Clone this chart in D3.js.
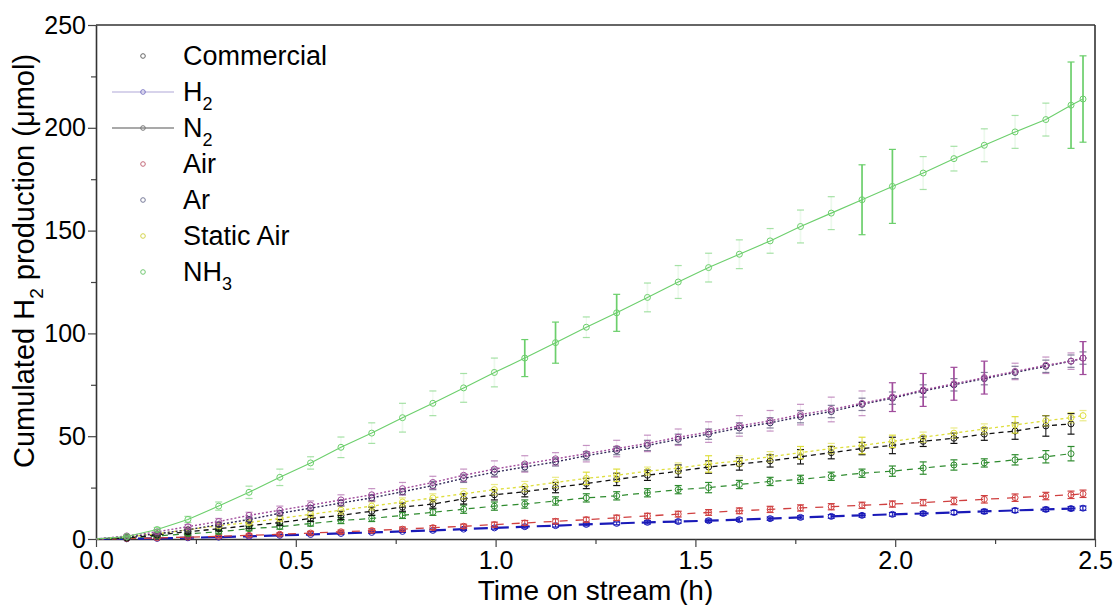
<!DOCTYPE html>
<html>
<head>
<meta charset="utf-8">
<script src="https://cdn.jsdelivr.net/npm/d3@7"></script>
<style>
  body { margin: 0; background: #fff; }
  text { font-family: Arial, "Liberation Sans", sans-serif; }
</style>
</head>
<body>
<div id="chart"></div>
<script>
// sampling times (h)
var times = [0, 0.077, 0.153, 0.23, 0.307, 0.383, 0.46, 0.537, 0.613, 0.69, 0.767, 0.843, 0.92, 0.997,
  1.073, 1.15, 1.227, 1.303, 1.38, 1.457, 1.533, 1.61, 1.687, 1.763, 1.84, 1.917, 1.993, 2.07,
  2.147, 2.223, 2.3, 2.377, 2.44, 2.47];

// cumulated H2 (umol), one array per curve
var nh3 = [0, 1.2, 4.6, 9.5, 16, 22.7, 30, 37, 44.6, 51.5, 59, 66, 73.5, 81, 88, 95.5, 103, 110, 117.5,
  125, 132, 138.5, 145, 152, 158.5, 165, 171.5, 178, 185, 191.5, 198, 204, 211, 214];
var nh3Err = [0, 0.5, 1, 1.5, 2, 3, 4, 3, 5, 5, 7, 6, 7, 7, 9, 10, 5, 9, 7, 8, 7, 7, 6, 8, 8, 17, 18, 8,
  6, 8, 8, 8, 21, 21];

var h2 = [0, 1.5, 3.5, 6, 8.5, 11.5, 14, 16.5, 19, 21.5, 24.5, 27.5, 31, 34, 36.5, 39, 41.5, 44, 46.5,
  49.5, 52, 55, 57.5, 60.5, 63, 66, 69, 72.5, 75.5, 78.5, 81.5, 84.5, 86.5, 88];
var h2Err = [0, 0.5, 1, 1, 1.5, 1.5, 2, 2, 2.5, 3, 3, 3, 3, 4, 4, 3, 4, 4, 4, 4, 5, 5, 5, 5, 6, 6, 7, 8,
  8, 8, 4, 4, 4, 8];

var n2 = [0, 1, 2.5, 4.5, 7, 9.5, 12.5, 15, 17.5, 20, 23, 26, 29.5, 32.5, 35, 37.5, 40.5, 43, 45.5,
  48.5, 51, 54, 56.5, 59.5, 62, 65.5, 68.5, 72, 75, 78, 81, 84, 86.5, 88];
var n2Err = [0, 0.3, 0.5, 0.8, 1, 1, 1.2, 1.2, 1.5, 1.5, 1.5, 2, 2, 2, 2, 2, 2, 2, 2.5, 2.5, 2.5, 2.5,
  2.5, 3, 3, 3, 3, 3, 3, 3, 3, 3, 3, 3];

var staticAir = [0, 1, 2.5, 4.5, 6.5, 8, 10, 12, 14, 16, 18, 20, 22, 24, 25.5, 27.5, 29.5, 31, 33, 34.5,
  36.5, 38, 40, 42, 44, 45.5, 47.5, 49.5, 51.5, 53.5, 55.5, 57.5, 59, 60];
var staticAirErr = [0, 0.3, 0.5, 0.8, 1, 1, 1.5, 1.5, 2, 2, 2, 2, 2.5, 2.5, 2.5, 2.5, 3, 3, 2, 2.5, 4,
  2.5, 2.5, 3, 2.5, 4, 3, 2.5, 2.5, 2.5, 4, 2.5, 2.5, 2.5];

var commercial = [0, 0.5, 2, 3.5, 5, 6.5, 8, 10, 11.5, 13.5, 15.5, 17, 19.5, 21.5, 23, 25, 27, 29, 31,
  33, 35, 36.5, 38, 40, 42, 44, 45.5, 47.5, 49, 51, 52.5, 55, 56];
var commercialErr = [0, 0.3, 0.5, 1, 1, 1.5, 1.5, 1.5, 2, 2, 2, 2, 2.5, 2.5, 2.5, 2.5, 2.5, 3, 2.5, 3,
  3, 3, 3, 3.5, 3, 3, 4, 2.5, 2.5, 3, 4, 5, 5];

var greenDash = [0, 0.5, 1.5, 2.5, 3.5, 5, 6, 7.5, 9, 10, 11.5, 13, 14.5, 16, 17, 18.5, 20, 21, 22.5,
  24, 25, 26.5, 28, 29, 30.5, 32, 33, 34.5, 36, 37, 38.5, 40, 41.5];
var greenDashErr = [0, 0.3, 0.5, 0.8, 1, 1, 1.2, 1.2, 1.5, 1.5, 1.5, 1.5, 2, 2, 2, 2, 2, 2, 2, 2, 2.5,
  2, 2, 2, 2, 2, 2.5, 3, 2.5, 2, 2.5, 3, 3.5];

var air = [0, 0.2, 0.5, 0.9, 1.3, 1.8, 2.3, 2.9, 3.5, 4.1, 4.8, 5.5, 6.2, 7, 7.8, 8.6, 9.4, 10.3, 11.2,
  12.1, 12.9, 13.7, 14.4, 15.1, 15.7, 16.4, 17, 17.7, 18.5, 19.3, 20.1, 20.9, 21.5, 22];
var airErr = [0, 0.2, 0.3, 0.4, 0.5, 0.6, 0.7, 0.8, 0.8, 0.9, 1, 1, 1, 1.2, 1.2, 1.2, 1.2, 1.3, 1.3,
  1.4, 1.4, 1.4, 1.5, 1.5, 1.5, 1.5, 1.5, 1.5, 1.8, 1.8, 1.8, 1.8, 1.8, 1.8];

var ar = [0, 0.1, 0.3, 0.6, 0.9, 1.3, 1.8, 2.2, 2.7, 3.2, 3.7, 4.2, 4.8, 5.4, 6, 6.5, 7.1, 7.6, 8.1,
  8.5, 8.9, 9.4, 9.9, 10.5, 11, 11.5, 12, 12.4, 12.9, 13.4, 13.9, 14.4, 14.8, 15];
var arErr = [0, 0.1, 0.2, 0.2, 0.3, 0.3, 0.4, 0.4, 0.5, 0.5, 0.5, 0.6, 0.6, 0.6, 0.7, 0.7, 0.7, 0.7,
  0.8, 0.8, 0.8, 0.8, 0.8, 0.8, 0.9, 0.9, 0.9, 0.9, 1, 1, 1, 1, 1, 1];

var xTicks = [0, 0.5, 1, 1.5, 2, 2.5];
var yTicks = [0, 50, 100, 150, 200, 250];

var legendNames = ["Commercial", "H|2", "N|2", "Air", "Ar", "Static Air", "NH|3"];
var legendColors = ["#666", "#7a74c4", "#777", "#c46a7a", "#777a99", "#d4d44c", "#72c872"];

// strong: error bars at or above this size are drawn solid, smaller ones faint
var series = [
  {v: ar, e: arErr, color: "#1a1ab8", dash: "14,7", w: 2.2, strong: 0},
  {v: air, e: airErr, color: "#d04040", dash: "8,8", w: 1.3, strong: 0},
  {v: greenDash, e: greenDashErr, color: "#2e8b2e", dash: "6,5", w: 1.2, strong: 0},
  {v: commercial, e: commercialErr, color: "#111", dash: "5,4", w: 1.3, strong: 0},
  {v: staticAir, e: staticAirErr, color: "#dede3c", dash: "3,3", w: 1.3, strong: 3},
  {v: n2, e: n2Err, color: "#302858", dash: "2,2", w: 1.4, strong: 99},
  {v: h2, e: h2Err, color: "#a04c9c", dash: "2,2", w: 1.4, strong: 7},
  {v: nh3, e: nh3Err, color: "#6ccf6c", dash: null, w: 1.1, strong: 9}
];

var margin = {top: 25, right: 18, bottom: 66, left: 96},
    width = 1113 - margin.left - margin.right,
    height = 605 - margin.top - margin.bottom;

var svg = d3.select("#chart")
  .append("svg")
    .attr("width", 1113)
    .attr("height", 605)
  .append("g")
    .attr("transform", "translate(" + margin.left + "," + margin.top + ")");

var x = d3.scaleLinear().domain([0, 2.5]).range([0, width]);
var y = d3.scaleLinear().domain([0, 250]).range([height, 0]);

// minor ticks
svg.append("g")
  .attr("transform", "translate(0," + height + ")")
  .call(d3.axisBottom(x).tickValues(d3.range(0.25, 2.5, 0.5)).tickSize(5).tickFormat(""))
  .call(function(g) { g.select(".domain").remove(); });
svg.append("g")
  .call(d3.axisLeft(y).tickValues(d3.range(25, 250, 50)).tickSize(5).tickFormat(""))
  .call(function(g) { g.select(".domain").remove(); });

var xAxis = svg.append("g")
  .attr("transform", "translate(0," + height + ")")
  .call(d3.axisBottom(x).tickValues(xTicks).tickSize(8).tickSizeOuter(0).tickPadding(4)
    .tickFormat(d3.format(".1f")));
var yAxis = svg.append("g")
  .call(d3.axisLeft(y).tickValues(yTicks).tickSize(8).tickSizeOuter(0).tickPadding(2));

svg.selectAll(".tick text").attr("font-size", 25).attr("fill", "#000")
  .style("font-family", "Arial, 'Liberation Sans', sans-serif");
svg.selectAll(".tick line").attr("stroke", "#444").attr("stroke-width", 1.2);
svg.selectAll(".domain").attr("stroke", "#333").attr("stroke-width", 1.6);

// frame top / right
svg.append("line").attr("x1", 0).attr("x2", width).attr("y1", 0).attr("y2", 0)
  .attr("stroke", "#333").attr("stroke-width", 1.6);
svg.append("line").attr("x1", width).attr("x2", width).attr("y1", 0).attr("y2", height)
  .attr("stroke", "#333").attr("stroke-width", 1.6);

var line = d3.line()
  .x(function(d, i) { return x(times[i]); })
  .y(function(d) { return y(d); });

series.forEach(function(s) {
  var g = svg.append("g");
  g.append("path")
    .datum(s.v)
    .attr("fill", "none")
    .attr("stroke", s.color)
    .attr("stroke-width", s.w)
    .attr("stroke-dasharray", s.dash)
    .attr("d", line);

  var pts = s.v.map(function(d, i) { return {t: times[i], v: d, e: s.e[i]}; }).slice(1);
  var eb = g.selectAll(".eb").data(pts).enter().append("g");
  eb.append("line")
    .attr("x1", function(d) { return x(d.t); })
    .attr("x2", function(d) { return x(d.t); })
    .attr("y1", function(d) { return y(d.v - d.e); })
    .attr("y2", function(d) { return y(d.v + d.e); })
    .attr("stroke", s.color)
    .attr("stroke-width", function(d) { return d.e > 6 ? 1.7 : 1; })
    .attr("opacity", function(d) { return d.e >= s.strong ? 1 : 0.12; });
  [-1, 1].forEach(function(sign) {
    eb.append("line")
      .attr("x1", function(d) { return x(d.t) - 3.5; })
      .attr("x2", function(d) { return x(d.t) + 3.5; })
      .attr("y1", function(d) { return y(d.v + sign * d.e); })
      .attr("y2", function(d) { return y(d.v + sign * d.e); })
      .attr("stroke", s.color)
      .attr("stroke-width", 1.2)
      .attr("opacity", function(d) { return d.e >= s.strong ? 1 : 0.6; });
  });
  g.selectAll("circle").data(pts).enter().append("circle")
    .attr("cx", function(d) { return x(d.t); })
    .attr("cy", function(d) { return y(d.v); })
    .attr("r", 3)
    .attr("fill", "none")
    .attr("stroke", s.color)
    .attr("stroke-width", 1);
});

// legend
var legend = svg.append("g");
legendNames.forEach(function(name, i) {
  var ly = 31 + i * 36;
  var row = legend.append("g").attr("transform", "translate(0," + ly + ")");
  if (i === 1 || i === 2) {
    row.append("line").attr("x1", 16).attr("x2", 78).attr("y1", 0).attr("y2", 0)
      .attr("stroke", i === 1 ? "#b0a8d8" : "#555").attr("stroke-width", 1.2);
  }
  row.append("circle").attr("cx", 47).attr("cy", 0).attr("r", 2.3)
    .attr("fill", "none").attr("stroke", legendColors[i]).attr("stroke-width", 1);
  var parts = name.split("|");
  var t = row.append("text").attr("x", 87).attr("y", 9).attr("font-size", 27).attr("fill", "#000");
  t.append("tspan").text(parts[0]);
  if (parts[1]) {
    t.append("tspan").attr("dy", 9).attr("font-size", 18).text(parts[1]);
  }
});

// axis titles
svg.append("text")
  .attr("x", width / 2)
  .attr("y", height + 61)
  .attr("text-anchor", "middle")
  .attr("font-size", 28)
  .text("Time on stream (h)");

var yt = svg.append("text")
  .attr("transform", "translate(-62," + 236 + ") rotate(-90)")
  .attr("text-anchor", "middle")
  .attr("font-size", 29);
yt.append("tspan").text("Cumulated H");
yt.append("tspan").attr("dy", 9).attr("font-size", 19).text("2");
yt.append("tspan").attr("dy", -9).text(" production (\u03bcmol)");
</script>
</body>
</html>
